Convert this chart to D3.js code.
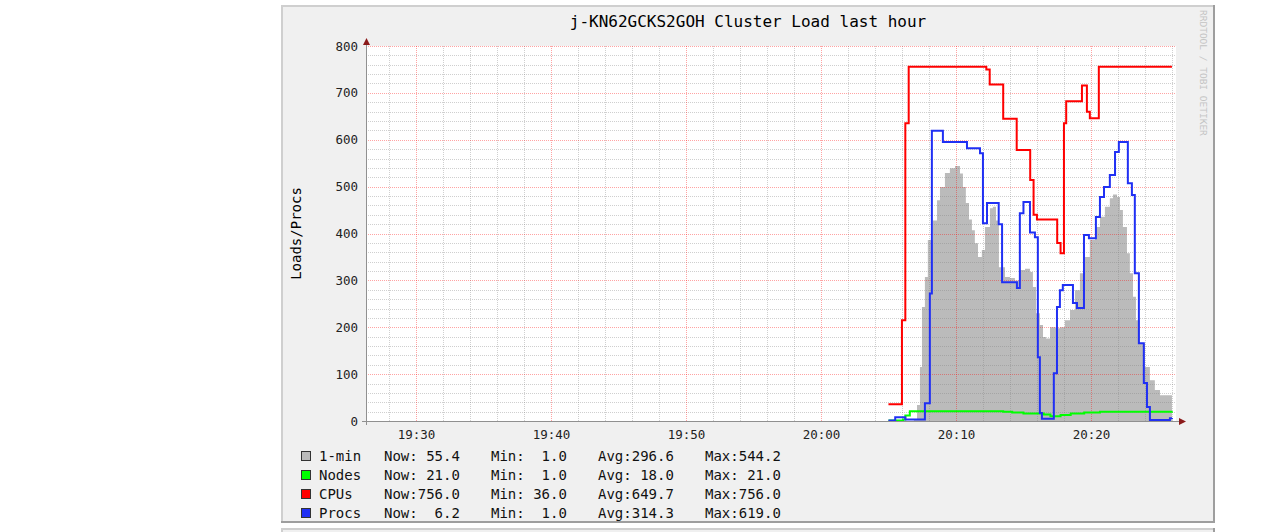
<!DOCTYPE html>
<html><head><meta charset="utf-8">
<script src="https://cdn.jsdelivr.net/npm/d3@7/dist/d3.min.js"></script>
<style>
html,body{margin:0;padding:0;background:#fff;}
svg{display:block;}
text{font-family:"DejaVu Sans Mono",monospace;}
</style></head>
<body>
<svg id="chart" width="1283" height="532"></svg>
<script>
// ---------------- data ----------------
const chartTitle = "j-KN62GCKS2GOH Cluster Load last hour";
const yLabel = "Loads/Procs";
const watermark = "RRDTOOL / TOBI OETIKER";
const timeDomain = ["19:26:18", "20:26:18"];
const yTicks = [0, 100, 200, 300, 400, 500, 600, 700, 800];
const xTickLabels = ["19:30", "19:40", "19:50", "20:00", "20:10", "20:20"];

const loadTimes = ["20:06:53","20:07:07","20:07:20","20:07:29","20:07:42","20:07:55","20:08:18","20:08:36","20:08:49","20:09:11","20:09:33","20:09:56","20:10:18","20:10:31","20:10:44","20:10:58","20:11:11","20:11:24","20:11:38","20:11:55","20:12:09","20:12:31","20:12:44","20:12:58","20:13:11","20:13:38","20:14:00","20:14:22","20:14:44","20:15:07","20:15:29","20:15:42","20:15:56","20:16:13","20:16:27","20:16:40","20:16:58","20:17:24","20:17:42","20:18:04","20:18:27","20:18:49","20:19:11","20:19:33","20:19:55","20:20:18","20:20:40","20:21:02","20:21:24","20:21:38","20:21:56","20:22:09","20:22:22","20:22:40","20:22:53","20:23:07","20:23:20","20:23:38","20:24:00","20:24:22","20:24:44","20:25:07","20:26:00"];
const loadValues = [3,34,115,243,307,386,428,471,499,529,539,544,528,499,465,430,407,379,350,365,414,454,457,428,328,307,305,300,322,325,318,286,230,205,179,176,200,198,200,215,237,279,315,350,386,414,436,457,475,483,478,450,414,358,315,265,215,166,115,87,66,55,55.4];

const nodeTimes = ["20:05:00","20:06:05","20:06:15","20:06:35","20:13:30","20:14:10","20:15:00","20:16:30","20:17:00","20:17:45","20:18:30","20:19:30","20:20:40","20:26:00"];
const nodeValues = [1,3,12,21,20,18,16,14,10,13,16,18,20,21];

const cpuTimes = ["20:05:00","20:06:00","20:06:15","20:06:30","20:12:15","20:12:30","20:13:30","20:14:30","20:15:30","20:15:45","20:16:00","20:17:30","20:17:45","20:18:00","20:18:10","20:19:20","20:19:42","20:19:55","20:20:35","20:26:00"];
const cpuValues = [36,215,635,756,750,718,645,578,514,440,430,380,358,635,682,716,660,646,756,756];

const procTimes = ["20:05:00","20:05:30","20:06:15","20:07:42","20:08:04","20:08:13","20:09:02","20:10:49","20:11:47","20:12:00","20:12:18","20:13:10","20:13:25","20:14:31","20:14:44","20:15:00","20:15:29","20:15:51","20:16:04","20:16:13","20:16:22","20:17:15","20:17:29","20:17:42","20:17:55","20:18:40","20:18:58","20:19:29","20:19:51","20:20:22","20:20:40","20:20:58","20:21:24","20:21:47","20:22:04","20:22:44","20:23:02","20:23:15","20:23:33","20:23:55","20:24:09","20:24:22","20:25:51","20:26:00"];
const procValues = [1,8,3,38,272,619,595,582,571,422,465,420,296,284,443,467,402,392,136,17,5,102,243,279,290,252,241,397,390,435,478,499,525,574,595,507,482,315,166,81,30,2,6,6.2];

const legendLabels = ["1-min", "Nodes", "CPUs", "Procs"];
const legendColors = ["#BBBBBB", "#00FF00", "#FF0000", "#2030F4"];
const nowValues = [55.4, 21.0, 756.0, 6.2];
const minValues = [1.0, 1.0, 36.0, 1.0];
const avgValues = [296.6, 18.0, 649.7, 314.3];
const maxValues = [544.2, 21.0, 756.0, 619.0];

// ---------------- layout ----------------
const frame = {x: 281, y: 5, w: 934, h: 518};
const plot = {left: 366, right: 1176, top: 46, bottom: 421};

const parse = d3.timeParse("%H:%M:%S");
const x = d3.scaleTime().domain(timeDomain.map(parse)).range([plot.left, plot.right]);
const y = d3.scaleLinear().domain([0, 800]).range([plot.bottom, plot.top]);

const svg = d3.select("#chart");

// background frame (rrdtool style)
svg.append("rect").attr("x", frame.x).attr("y", frame.y).attr("width", frame.w).attr("height", frame.h).attr("fill", "#F0F0F0");
svg.append("rect").attr("x", frame.x).attr("y", frame.y).attr("width", frame.w).attr("height", 2).attr("fill", "#CFCFCF");
svg.append("rect").attr("x", frame.x).attr("y", frame.y).attr("width", 2).attr("height", frame.h).attr("fill", "#CFCFCF");
svg.append("rect").attr("x", frame.x + frame.w - 2).attr("y", frame.y).attr("width", 2).attr("height", frame.h).attr("fill", "#9E9E9E");
svg.append("rect").attr("x", frame.x).attr("y", frame.y + frame.h - 2).attr("width", frame.w).attr("height", 2).attr("fill", "#9E9E9E");
// next graph peeking below
svg.append("rect").attr("x", frame.x).attr("y", 528).attr("width", frame.w).attr("height", 4).attr("fill", "#F0F0F0");
svg.append("rect").attr("x", frame.x).attr("y", 528).attr("width", frame.w).attr("height", 2).attr("fill", "#CFCFCF");
svg.append("rect").attr("x", frame.x).attr("y", 528).attr("width", 2).attr("height", 4).attr("fill", "#CFCFCF");
svg.append("rect").attr("x", frame.x + frame.w - 2).attr("y", 528).attr("width", 2).attr("height", 4).attr("fill", "#9E9E9E");

// canvas
svg.append("rect").attr("x", plot.left).attr("y", plot.top).attr("width", plot.right - plot.left).attr("height", plot.bottom - plot.top).attr("fill", "#FFFFFF");

// title
svg.append("text").attr("x", frame.x + frame.w / 2).attr("y", 27).attr("text-anchor", "middle")
  .attr("font-size", 16).attr("fill", "#000").text(chartTitle);

// watermark
svg.append("text").attr("transform", "translate(1200,10) rotate(90)")
  .attr("font-size", 9.5).attr("fill", "#C4C4C4").text(watermark);

// y label
svg.append("text").attr("transform", `translate(301,${(plot.top + plot.bottom) / 2}) rotate(-90)`)
  .attr("text-anchor", "middle").attr("font-size", 14).attr("fill", "#000").text(yLabel);

const mk = (ts, vs) => ts.map((t, i) => ({t: parse(t), v: vs[i]}));
const loadData = mk(loadTimes, loadValues);
const nodeData = mk(nodeTimes, nodeValues);
const cpuData = mk(cpuTimes, cpuValues);
const procData = mk(procTimes, procValues);

// area 1-min
const area = d3.area().x(d => x(d.t)).y0(y(0)).y1(d => y(d.v)).curve(d3.curveStepAfter);
svg.append("path").datum(loadData).attr("d", area).attr("fill", legendColors[0]);

// grid
const g = svg.append("g");
const minorX = d3.timeMinute.every(2).range(x.domain()[0], x.domain()[1]);
const majorX = d3.timeMinute.every(10).range(x.domain()[0], x.domain()[1]);
const minorY = d3.range(0, 801, 20);
const minorC = "rgba(128,128,128,0.38)", majorC = "rgba(255,0,0,0.36)";
g.selectAll(".mx").data(minorX.filter(d => d.getMinutes() % 10 !== 0)).join("line")
  .attr("x1", d => Math.round(x(d)) + 0.5).attr("x2", d => Math.round(x(d)) + 0.5)
  .attr("y1", plot.top).attr("y2", plot.bottom)
  .attr("stroke", minorC).attr("stroke-dasharray", "1,1");
g.selectAll(".my").data(minorY.filter(v => v % 100 !== 0)).join("line")
  .attr("x1", plot.left).attr("x2", plot.right)
  .attr("y1", d => Math.round(y(d)) + 0.5).attr("y2", d => Math.round(y(d)) + 0.5)
  .attr("stroke", minorC).attr("stroke-dasharray", "1,1");
g.selectAll(".Mx").data(majorX).join("line")
  .attr("x1", d => Math.round(x(d)) + 0.5).attr("x2", d => Math.round(x(d)) + 0.5)
  .attr("y1", plot.top).attr("y2", plot.bottom)
  .attr("stroke", majorC).attr("stroke-dasharray", "1,1");
g.selectAll(".My").data(yTicks.filter(v => v > 0)).join("line")
  .attr("x1", plot.left).attr("x2", plot.right)
  .attr("y1", d => Math.round(y(d)) + 0.5).attr("y2", d => Math.round(y(d)) + 0.5)
  .attr("stroke", majorC).attr("stroke-dasharray", "1,1");

// lines
const line = d3.line().x(d => x(d.t)).y(d => y(d.v)).curve(d3.curveStepAfter);
[[nodeData, legendColors[1]], [cpuData, legendColors[2]], [procData, legendColors[3]]].forEach(([d, c]) => {
  svg.append("path").datum(d).attr("d", line).attr("fill", "none").attr("stroke", c).attr("stroke-width", 2);
});

// axes lines + arrows
const axisColor = "#909090", arrowColor = "#8B1A1A";
svg.append("line").attr("x1", plot.left - 4).attr("x2", plot.right + 4).attr("y1", plot.bottom + 0.5).attr("y2", plot.bottom + 0.5).attr("stroke", axisColor);
svg.append("line").attr("x1", plot.left + 0.5).attr("x2", plot.left + 0.5).attr("y1", plot.bottom + 4).attr("y2", plot.top - 3).attr("stroke", axisColor);
svg.append("path").attr("d", `M${plot.left + 0.5},${plot.top - 8} L${plot.left - 3},${plot.top - 1} L${plot.left + 4},${plot.top - 1} Z`).attr("fill", arrowColor);
svg.append("path").attr("d", `M${plot.right + 10},${plot.bottom + 0.5} L${plot.right + 3},${plot.bottom - 3} L${plot.right + 3},${plot.bottom + 4} Z`).attr("fill", arrowColor);

// axis labels via d3 axes
const yAxis = svg.append("g").attr("transform", `translate(${plot.left},0)`)
  .call(d3.axisLeft(y).tickValues(yTicks).tickSize(0).tickPadding(8));
yAxis.select(".domain").remove();
yAxis.selectAll("text").attr("font-family", "DejaVu Sans Mono").attr("font-size", 12.5).attr("fill", "#222");

const xAxis = svg.append("g").attr("transform", `translate(0,${plot.bottom})`)
  .call(d3.axisBottom(x).tickValues(xTickLabels.map(s => parse(s + ":00"))).tickFormat(d3.timeFormat("%H:%M")).tickSize(0).tickPadding(9));
xAxis.select(".domain").remove();
xAxis.selectAll("text").attr("font-family", "DejaVu Sans Mono").attr("font-size", 12.5).attr("fill", "#222");

// legend
const fmt = d3.format("5.1f");
const rowY = [456, 475, 494, 513];
const leg = svg.append("g");
legendLabels.forEach((lab, i) => {
  const cy = rowY[i];
  leg.append("rect").attr("x", 301.5).attr("y", cy - 4.5).attr("width", 9).attr("height", 9)
    .attr("fill", legendColors[i]).attr("stroke", "#333").attr("stroke-width", 1);
  const cols = [
    [319, lab],
    [384, "Now:" + fmt(nowValues[i])],
    [491, "Min:" + fmt(minValues[i])],
    [598, "Avg:" + fmt(avgValues[i])],
    [705, "Max:" + fmt(maxValues[i])]
  ];
  cols.forEach(([cx, s]) => {
    leg.append("text").attr("x", cx).attr("y", cy + 5).attr("font-size", 14)
      .attr("fill", "#111").style("white-space", "pre").text(s);
  });
});
</script>
</body></html>
